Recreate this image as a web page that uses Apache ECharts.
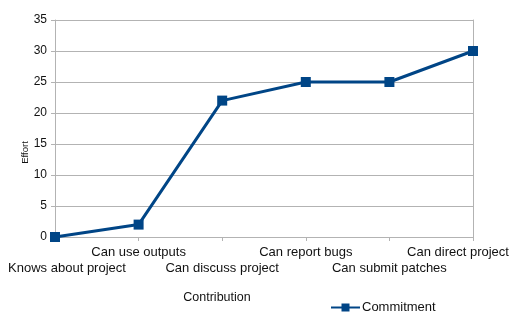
<!DOCTYPE html>
<html>
<head>
<meta charset="utf-8">
<script src="https://cdn.jsdelivr.net/npm/echarts@6/dist/echarts.min.js"></script>
<style>html,body{margin:0;padding:0;background:#fff;}#c{width:520px;height:323px;}</style>
</head>
<body>
<div id="c"></div>
<script>
const categories = ['Knows about project', 'Can use outputs', 'Can discuss project', 'Can report bugs', 'Can submit patches', 'Can direct project'];
const commitment = [0, 2, 22, 25, 25, 30];
const seriesName = 'Commitment';
const xName = 'Contribution';
const yName = 'Effort';

const FONT = '"Liberation Sans", Arial, sans-serif';
const catData = categories.map((c, i) => {
  const item = { value: c };
  if (i === 0) item.textStyle = { padding: [0, 0, 0, 24] };
  if (i === categories.length - 1) item.textStyle = { padding: [0, 30, 0, 0] };
  return item;
});

const chart = echarts.init(document.getElementById('c'), null, { renderer: 'canvas' });
chart.setOption({
  animation: false,
  backgroundColor: '#ffffff',
  textStyle: { fontFamily: FONT },
  grid: { left: 55, right: 47, top: 20, bottom: 86, containLabel: false, outerBoundsMode: 'none' },
  legend: {
    data: [seriesName],
    left: 330, top: 301, padding: 0,
    itemWidth: 29, itemHeight: 10, itemGap: 4,
    textStyle: { fontFamily: FONT, fontSize: 13, color: '#111', padding: [0, 0, 0, -3] }
  },
  xAxis: {
    type: 'category',
    data: catData,
    boundaryGap: false,
    name: xName,
    nameLocation: 'middle',
    nameGap: 54,
    nameMoveOverlap: false,
    nameTextStyle: { fontFamily: FONT, fontSize: 12.5, color: '#111', padding: [0, 94, 0, 0] },
    axisLine: { lineStyle: { color: '#b3b3b3', width: 1 } },
    axisTick: { show: true, length: 4, alignWithLabel: true, lineStyle: { color: '#b3b3b3' } },
    axisLabel: {
      interval: 0, margin: 7, fontFamily: FONT, fontSize: 13, color: '#111', lineHeight: 16,
      formatter: (v, i) => (i % 2 === 0 ? '\n' + v : v)
    },
    splitLine: { show: false }
  },
  yAxis: [{
    type: 'value', min: 0, max: 35, interval: 5,
    name: yName,
    nameLocation: 'middle',
    nameRotate: 90,
    nameGap: 25,
    nameMoveOverlap: false,
    nameTextStyle: { fontFamily: FONT, fontSize: 9.5, color: '#111', padding: [0, 48, 0, 0] },
    axisLine: { show: true, lineStyle: { color: '#b3b3b3' } },
    axisTick: { show: true, length: 4, lineStyle: { color: '#b3b3b3' } },
    axisLabel: { fontFamily: FONT, fontSize: 12, color: '#111', margin: 8 },
    splitLine: { show: true, lineStyle: { color: '#b3b3b3', width: 1 } }
  }, {
    type: 'value', min: 0, max: 35, interval: 5, position: 'right',
    axisLine: { show: true, lineStyle: { color: '#b3b3b3' } },
    axisTick: { show: false }, axisLabel: { show: false }, splitLine: { show: false }
  }],
  series: [{
    name: seriesName,
    type: 'line',
    data: commitment,
    symbol: 'rect',
    symbolSize: 10,
    clip: false,
    lineStyle: { color: '#004586', width: 3 },
    itemStyle: { color: '#004586' }
  }]
});
</script>
</body>
</html>
